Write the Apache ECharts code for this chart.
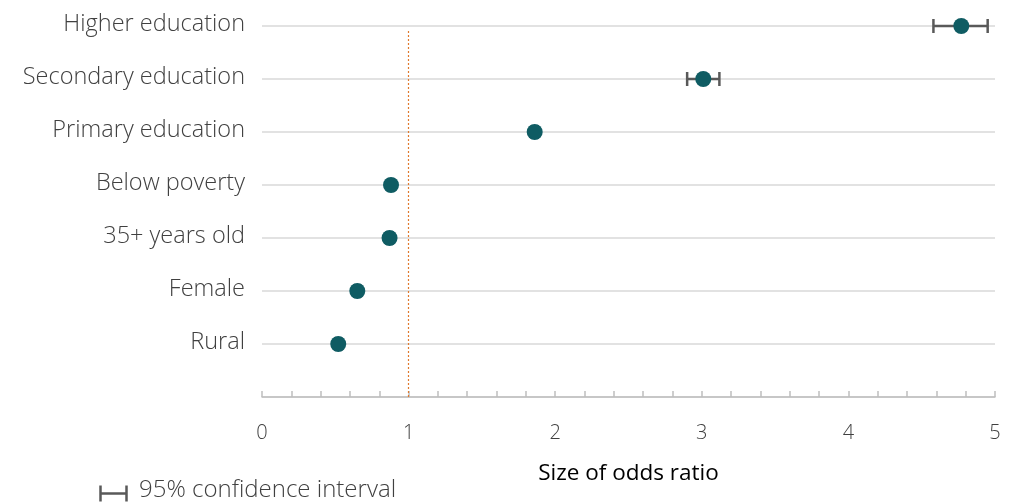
<!DOCTYPE html>
<html>
<head>
<meta charset="utf-8">
<script src="https://cdn.jsdelivr.net/npm/echarts@6/dist/echarts.min.js"></script>
<style>
html,body{margin:0;padding:0;background:#fff;}
#chart{width:1014px;height:502px;}
</style>
</head>
<body>
<div id="chart"></div>
<script>
// Data (bottom to top)
var categories = ['Rural', 'Female', '35+ years old', 'Below poverty', 'Primary education', 'Secondary education', 'Higher education'];
var oddsRatio = [0.52, 0.65, 0.87, 0.88, 1.86, 3.01, 4.77];
var ciLow = [0.50, 0.63, 0.85, 0.86, 1.84, 2.90, 4.58];
var ciHigh = [0.54, 0.67, 0.89, 0.90, 1.88, 3.12, 4.95];
var xTicks = [0, 1, 2, 3, 4, 5];
var referenceValue = 1;
var axisTitle = 'Size of odds ratio';
var legendLabel = '95% confidence interval';

var FONT = '"Open Sans", sans-serif';
var chart = echarts.init(document.getElementById('chart'), null, {renderer: 'canvas'});

var pointData = oddsRatio.map(function (v, i) { return [v, i + 1]; });
var ciData = ciLow.map(function (lo, i) { return [lo, ciHigh[i], i + 1]; });

var option = {
  animation: false,
  backgroundColor: '#ffffff',
  grid: {left: 262, right: 19, top: 26, bottom: 105, containLabel: false},
  xAxis: {
    type: 'value',
    min: xTicks[0],
    max: xTicks[xTicks.length - 1],
    interval: 1,
    name: axisTitle,
    nameLocation: 'middle',
    nameGap: 65,
    nameTextStyle: {fontFamily: FONT, fontSize: 22.5, color: '#000000'},
    axisLine: {show: true, lineStyle: {color: '#bfbfbf', width: 1.5}},
    axisTick: {show: true, inside: true, length: 6, lineStyle: {color: '#bfbfbf', width: 1.5}},
    minorTick: {show: true, splitNumber: 5, length: 6, lineStyle: {color: '#bfbfbf', width: 1.5}},
    axisLabel: {fontFamily: FONT, fontSize: 20, color: '#404040', fontWeight: 300, margin: 26},
    splitLine: {show: false}
  },
  yAxis: {
    type: 'value',
    min: 0,
    max: 7,
    interval: 1,
    axisLine: {show: false},
    axisTick: {show: false},
    splitLine: {show: true, lineStyle: {color: '#d9d9d9', width: 1.5}},
    axisLabel: {
      fontFamily: FONT, fontSize: 23.5, color: '#404040', fontWeight: 300, margin: 17,
      verticalAlign: 'bottom', padding: [0, 0, -10, 0],
      formatter: function (v) { return v >= 1 && v <= categories.length ? categories[v - 1] : ''; }
    }
  },
  graphic: [
    {type: 'group', left: 98, top: 483, children: [
      {type: 'line', shape: {x1: 1, y1: 0, x2: 1, y2: 16}, style: {stroke: '#595959', lineWidth: 2.5}},
      {type: 'line', shape: {x1: 1, y1: 8, x2: 27, y2: 8}, style: {stroke: '#595959', lineWidth: 2.5}},
      {type: 'line', shape: {x1: 27, y1: 0, x2: 27, y2: 16}, style: {stroke: '#595959', lineWidth: 2.5}}
    ]},
    {type: 'text', x: 139, y: 490, style: {text: legendLabel, font: '300 24px "Open Sans", sans-serif', fill: '#404040', verticalAlign: 'middle'}}
  ],
  series: [
    {
      type: 'custom',
      clip: false,
      z: 3,
      data: ciData,
      renderItem: function (params, api) {
        var y = api.value(2);
        var p1 = api.coord([api.value(0), y]);
        var p2 = api.coord([api.value(1), y]);
        var h = 7;
        var st = {stroke: '#595959', lineWidth: 2.5};
        return {type: 'group', children: [
          {type: 'line', shape: {x1: p1[0], y1: p1[1], x2: p2[0], y2: p2[1]}, style: st},
          {type: 'line', shape: {x1: p1[0], y1: p1[1] - h, x2: p1[0], y2: p1[1] + h}, style: st},
          {type: 'line', shape: {x1: p2[0], y1: p2[1] - h, x2: p2[0], y2: p2[1] + h}, style: st}
        ]};
      }
    },
    {
      type: 'scatter',
      clip: false,
      z: 4,
      symbol: 'circle',
      symbolSize: 16,
      itemStyle: {color: '#0f5c63', opacity: 1},
      data: pointData,
      markLine: {
        silent: true,
        symbol: 'none',
        label: {show: false},
        lineStyle: {color: '#e07a2e', type: [2, 2], width: 1.2},
        data: [[{coord: [referenceValue, 0]}, {coord: [referenceValue, 6.92]}]]
      }
    }
  ]
};
chart.setOption(option);
</script>
</body>
</html>
